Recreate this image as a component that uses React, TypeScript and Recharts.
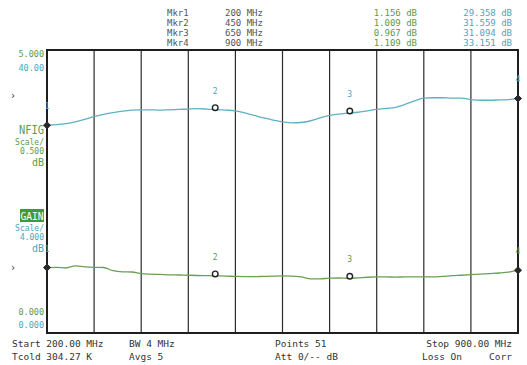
import React from "react";
import {
  LineChart,
  Line,
  CartesianGrid,
  XAxis,
  YAxis,
  ReferenceDot,
  ReferenceArea,
} from "recharts";

// sweep points, MHz (51 points, 200..900)
const freqs = [
  200, 214, 228, 242, 256, 270, 284, 298, 312, 326, 340, 354, 368, 382, 396,
  410, 424, 438, 452, 466, 480, 494, 508, 522, 536, 550, 564, 578, 592, 606,
  620, 634, 648, 662, 676, 690, 704, 718, 732, 746, 760, 774, 788, 802, 816,
  830, 844, 858, 872, 886, 900,
];

// gain trace, dB
const gain = [
  29.36, 29.45, 29.6, 29.85, 30.2, 30.6, 30.9, 31.15, 31.35, 31.5, 31.55,
  31.55, 31.5, 31.55, 31.6, 31.65, 31.7, 31.65, 31.56, 31.5, 31.4, 31.1,
  30.75, 30.4, 30.1, 29.85, 29.7, 29.75, 30.0, 30.4, 30.75, 30.95, 31.09,
  31.2, 31.4, 31.6, 31.75, 31.9, 32.3, 32.8, 33.2, 33.25, 33.25, 33.2, 33.2,
  33.0, 32.9, 32.9, 32.95, 33.0, 33.15,
];

// noise figure trace, dB
const nfig = [
  1.156, 1.16, 1.148, 1.185, 1.17, 1.16, 1.157, 1.1, 1.08, 1.078, 1.05, 1.04,
  1.035, 1.028, 1.025, 1.02, 1.016, 1.013, 1.009, 1.005, 1.0, 0.997, 0.995,
  1.0, 1.005, 1.008, 1.006, 0.99, 0.958, 0.955, 0.97, 0.972, 0.967, 0.975,
  0.985, 0.99, 0.99, 0.988, 0.99, 0.99, 0.99, 0.99, 1.0, 1.012, 1.02, 1.03,
  1.04, 1.05, 1.06, 1.075, 1.109,
];

// marker table
const mkrNames = ["Mkr1", "Mkr2", "Mkr3", "Mkr4"];
const mkrFreqs = [200, 450, 650, 900];
const mkrNf = [1.156, 1.009, 0.967, 1.109];
const mkrGain = [29.358, 31.559, 31.094, 33.151];

const xTicks = [200, 270, 340, 410, 480, 550, 620, 690, 760, 830, 900];
const gainTicks = [0, 4, 8, 12, 16, 20, 24, 28, 32, 36, 40];

const data = freqs.map((f, i) => ({ f, gain: gain[i], nfig: nfig[i] }));

const GAIN_COLOR = "#5fb0c2";
const NF_COLOR = "#6b9f55";
const GAIN_TEXT = "#4ea6bb";
const NF_TEXT = "#5d9a4c";
const MONO = "'DejaVu Sans Mono', monospace";

const markerShape = (idx: number) => (props: any) => {
  const { cx, cy } = props;
  if (idx === 0 || idx === 3) {
    const s = 3.5;
    return (
      <path
        d={`M${cx},${cy - s} L${cx + s},${cy} L${cx},${cy + s} L${cx - s},${cy} Z`}
        fill="#2a2a2a"
        stroke="#2a2a2a"
      />
    );
  }
  return (
    <circle cx={cx} cy={cy - 2} r={2.8} fill="#fff" stroke="#222" strokeWidth={1.4} />
  );
};

const Txt = ({
  x,
  y,
  children,
  fill = "#444",
  size = 9,
  anchor = "start",
  family = MONO,
  len,
}: any) => (
  <text
    x={x}
    y={y}
    fill={fill}
    fontSize={size}
    fontFamily={family}
    textAnchor={anchor}
    textLength={len}
    lengthAdjust={len ? "spacingAndGlyphs" : undefined}
  >
    {children}
  </text>
);

export default function App() {
  return (
    <div
      style={{
        position: "absolute",
        left: 0,
        top: 0,
        width: 527,
        height: 365,
        background: "#fff",
      }}
    >
      <LineChart
        width={527}
        height={365}
        data={data}
        margin={{ top: 50, right: 9, bottom: 32, left: 47 }}
      >
        <CartesianGrid stroke="#2b2b2b" strokeWidth={1.2} />
        <XAxis
          dataKey="f"
          type="number"
          domain={[200, 900]}
          ticks={xTicks}
          hide
        />
        <YAxis yAxisId="gain" domain={[0, 40]} ticks={gainTicks} hide />
        <YAxis yAxisId="nf" domain={[0, 5]} hide />
        <ReferenceArea
          yAxisId="gain"
          x1={200}
          x2={900}
          y1={0}
          y2={40}
          fill="none"
          stroke="#1e1e1e"
          strokeWidth={2}
        />
        <Line
          yAxisId="gain"
          dataKey="gain"
          type="monotone"
          stroke={GAIN_COLOR}
          strokeWidth={1.3}
          dot={false}
          isAnimationActive={false}
        />
        <Line
          yAxisId="nf"
          dataKey="nfig"
          type="monotone"
          stroke={NF_COLOR}
          strokeWidth={1.3}
          dot={false}
          isAnimationActive={false}
        />
        {mkrFreqs.map((f, i) => (
          <ReferenceDot
            key={"g" + i}
            yAxisId="gain"
            x={f}
            y={mkrGain[i]}
            ifOverflow="visible"
            shape={markerShape(i)}
            label={{
              value: String(i + 1),
              position: "top",
              fill: GAIN_TEXT,
              fontSize: 8,
              fontFamily: MONO,
              offset: 6,
            }}
          />
        ))}
        {mkrFreqs.map((f, i) => (
          <ReferenceDot
            key={"n" + i}
            yAxisId="nf"
            x={f}
            y={mkrNf[i]}
            ifOverflow="visible"
            shape={markerShape(i)}
            label={{
              value: String(i + 1),
              position: "top",
              fill: NF_TEXT,
              fontSize: 8,
              fontFamily: MONO,
              offset: 6,
            }}
          />
        ))}
      </LineChart>

      <svg
        width={527}
        height={365}
        style={{ position: "absolute", left: 0, top: 0, pointerEvents: "none" }}
      >
        {/* marker readout */}
        {mkrNames.map((m, i) => (
          <g key={m}>
            <Txt x={167} y={15.8 + i * 10} fill="#555">
              {m}
            </Txt>
            <Txt x={225} y={15.8 + i * 10} fill="#555">
              {`${mkrFreqs[i]} MHz`}
            </Txt>
            <Txt x={417} y={15.8 + i * 10} fill={NF_TEXT} anchor="end">
              {`${mkrNf[i].toFixed(3)} dB`}
            </Txt>
            <Txt x={512} y={15.8 + i * 10} fill={GAIN_TEXT} anchor="end">
              {`${mkrGain[i].toFixed(3)} dB`}
            </Txt>
          </g>
        ))}

        {/* left scale labels */}
        <Txt x={44} y={57} fill={NF_TEXT} size={8.5} anchor="end">5.000</Txt>
        <Txt x={44} y={71} fill={GAIN_TEXT} size={8.5} anchor="end">40.00</Txt>
        <Txt x={10} y={99} fill="#333" size={10}>›</Txt>
        <Txt x={19} y={134} fill={NF_TEXT} size={12} len={25}>NFIG</Txt>
        <Txt x={44} y={145} fill={NF_TEXT} size={8} anchor="end">Scale/</Txt>
        <Txt x={44} y={153.5} fill={NF_TEXT} size={8} anchor="end">0.500</Txt>
        <Txt x={32} y={165.5} fill={NF_TEXT} size={10} len={12}>dB</Txt>

        <rect x={20} y={209} width={24} height={13} fill="#3f9a3f" />
        <Txt x={20.5} y={219.5} fill="#fff" size={11} len={23}>GAIN</Txt>
        <Txt x={44} y={231} fill={GAIN_TEXT} size={8} anchor="end">Scale/</Txt>
        <Txt x={44} y={239.5} fill={GAIN_TEXT} size={8} anchor="end">4.000</Txt>
        <Txt x={32} y={252} fill={GAIN_TEXT} size={10} len={12}>dB</Txt>
        <Txt x={10} y={271} fill="#333" size={10}>›</Txt>

        <Txt x={44} y={315} fill={NF_TEXT} size={8.5} anchor="end">0.000</Txt>
        <Txt x={44} y={328} fill={GAIN_TEXT} size={8.5} anchor="end">0.000</Txt>

        {/* sweep settings */}
        <Txt x={12} y={347} fill="#333" size={9.5}>Start 200.00 MHz</Txt>
        <Txt x={12} y={360} fill="#333" size={9.5}>Tcold 304.27 K</Txt>
        <Txt x={129} y={347} fill="#333" size={9.5}>BW 4 MHz</Txt>
        <Txt x={129} y={360} fill="#333" size={9.5}>Avgs 5</Txt>
        <Txt x={275} y={347} fill="#333" size={9.5}>Points 51</Txt>
        <Txt x={275} y={360} fill="#333" size={9.5}>Att 0/-- dB</Txt>
        <Txt x={512} y={347} fill="#333" size={9.5} anchor="end">Stop 900.00 MHz</Txt>
        <Txt x={422} y={360} fill="#333" size={9.5}>Loss On</Txt>
        <Txt x={512} y={360} fill="#333" size={9.5} anchor="end">Corr</Txt>
      </svg>
    </div>
  );
}
